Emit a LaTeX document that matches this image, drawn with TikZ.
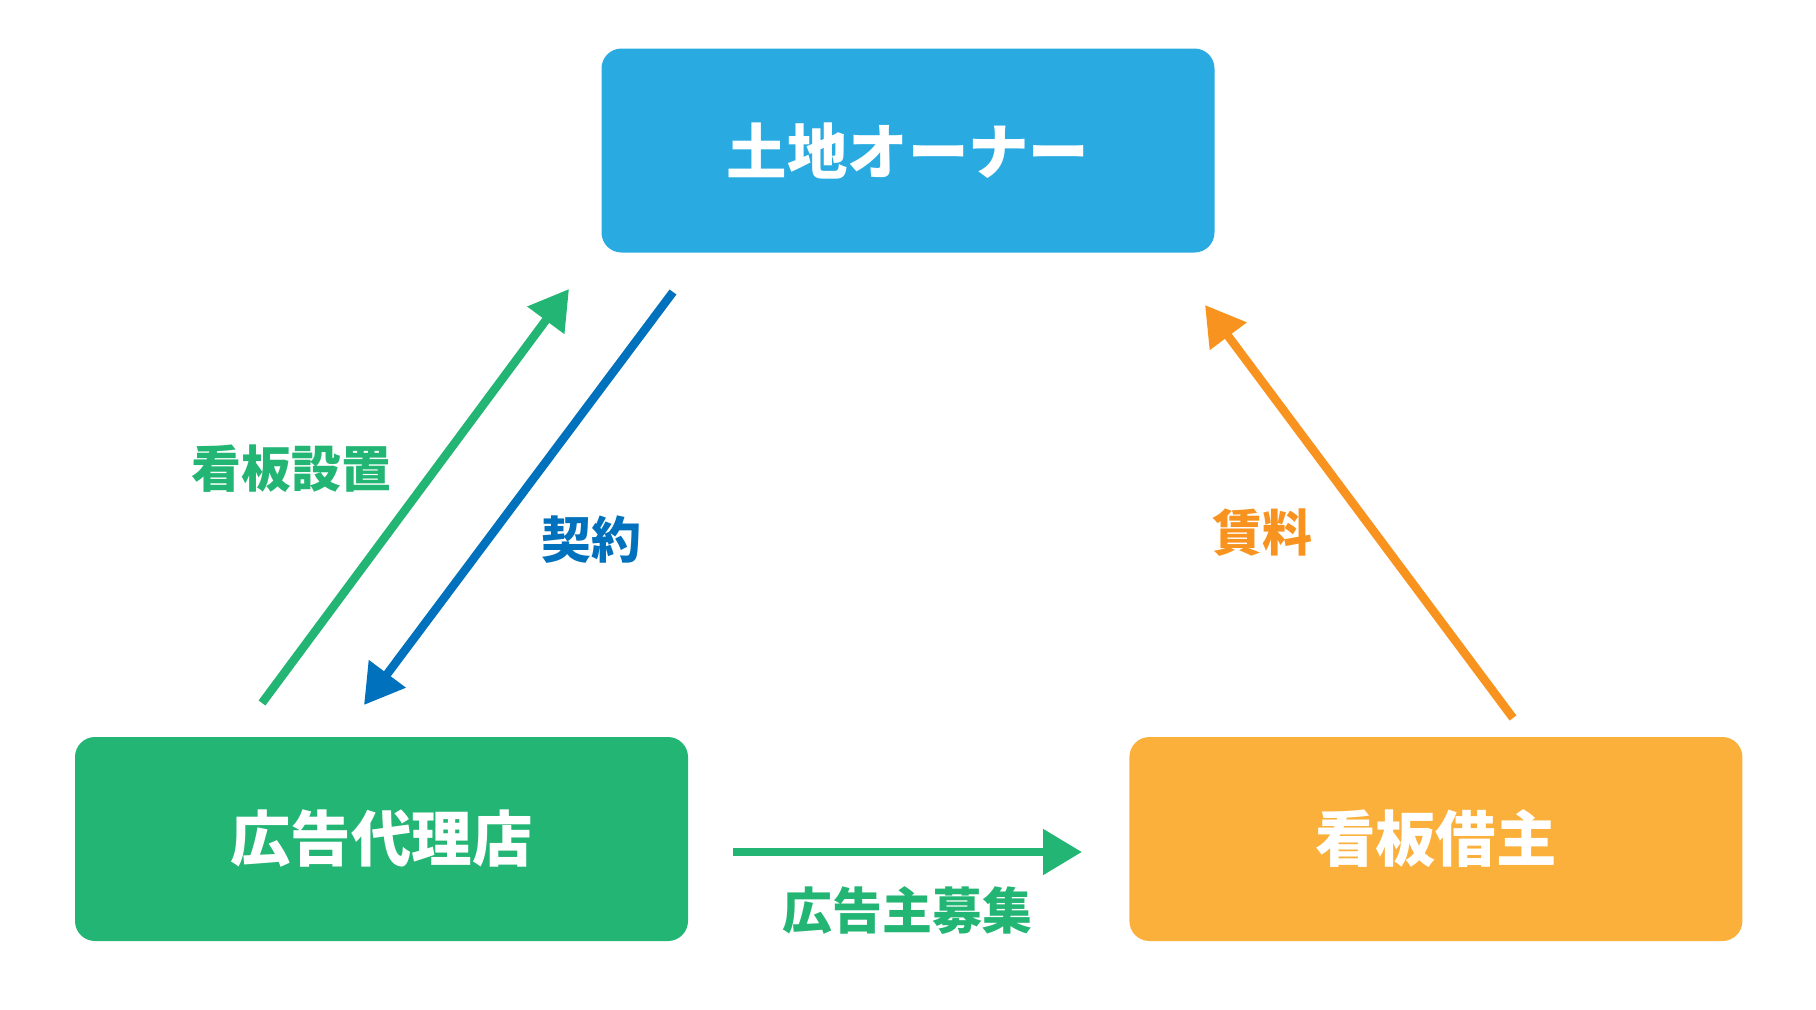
\documentclass[tikz,border=0pt]{standalone}
\usepackage{fontspec}
\usepackage{tikz}
\usetikzlibrary{arrows.meta,positioning}
\newfontfamily\jpfont{Noto Sans CJK JP}
\definecolor{SignSky}{HTML}{29ABE2}
\definecolor{SignGreen}{HTML}{22B573}
\definecolor{SignAmber}{HTML}{FBB03B}
\definecolor{SignOrange}{HTML}{F7931E}
\definecolor{SignBlue}{HTML}{0071BC}

\begin{document}
\begin{tikzpicture}[
    party/.style={rounded corners=2mm, minimum width=61.3mm, minimum height=20.4mm,
      align=center, text=white, font=\jpfont\bfseries\fontsize{17.2}{20}\selectfont},
    flow/.style={line width=0.85mm, -{Triangle[length=3.9mm,width=4.4mm]}},
    tag/.style={inner sep=0pt, font=\jpfont\bfseries\fontsize{14.2}{17}\selectfont}
  ]
    \useasboundingbox (0,0) rectangle (18.16,10.09);
    \node[party, fill=SignSky] (owner) at (9.08,8.585) {土地オーナー};
    \node[party, fill=SignGreen] (agency) at (3.815,1.70) {広告代理店};
    \node[party, fill=SignAmber, right=4.4cm of agency] (tenant) {看板借主};
    % free ends of the connectors
    \coordinate (setupA) at (2.62,3.06);
    \coordinate (setupB) at (5.69,7.20);
    \coordinate (dealA) at (6.73,7.17);
    \coordinate (dealB) at (3.64,3.04);
    \coordinate (rentA) at (15.13,2.91);
    \coordinate (rentB) at (12.05,7.04);
    \coordinate (adsA) at (7.33,1.57);
    \coordinate (adsB) at (10.82,1.57);
    \draw[flow, SignGreen] (setupA) -- node[tag, pos=0.565, left=4mm, text=SignGreen] {看板設置} (setupB);
    \draw[flow, SignBlue] (dealA) -- node[tag, pos=0.6, right=5mm, text=SignBlue] {契約} (dealB);
    \draw[flow, SignOrange] (rentA) -- node[tag, pos=0.45, left=5.8mm, text=SignOrange] {賃料} (rentB);
    \draw[flow, SignGreen] (adsA) -- node[tag, midway, below=3mm, text=SignGreen] {広告主募集} (adsB);
  \end{tikzpicture}
\end{document}
